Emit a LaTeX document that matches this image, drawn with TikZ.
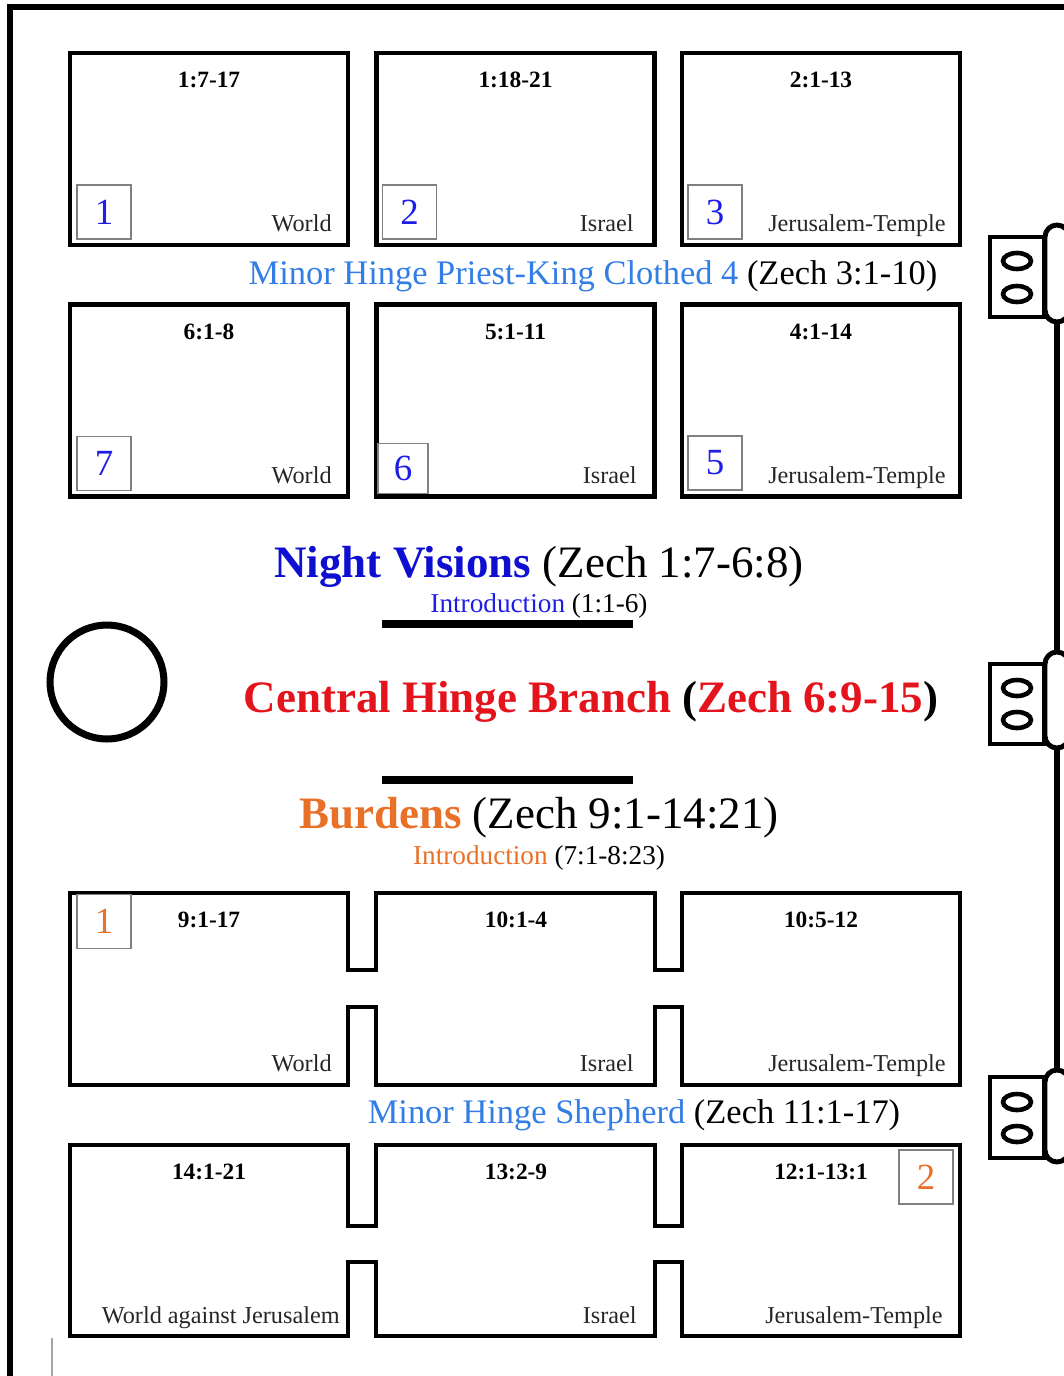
\documentclass[tikz,border=0pt]{standalone}
\usepackage{fontspec}
\setmainfont{Liberation Serif}
\usetikzlibrary{shapes.geometric}
\definecolor{hingeblue}{RGB}{50,125,230}
\definecolor{nightblue}{RGB}{15,15,210}
\definecolor{numblue}{RGB}{30,30,230}
\definecolor{branchred}{RGB}{228,20,28}
\definecolor{burdorange}{RGB}{232,112,40}
\tikzset{
  >=latex,
}
\tikzstyle{frame}=[line width=3.4pt]
\tikzstyle{outline}=[line width=2.6pt]
\tikzstyle{vision}=[draw,line width=2.6pt,minimum width=5.56cm,minimum height=3.84cm]
\tikzstyle{numbox}=[draw=gray,line width=0.8pt,minimum width=1.08cm,minimum height=1.08cm,inner sep=0pt,font=\fontsize{21}{21}\selectfont]
\tikzstyle{ref}=[anchor=base,inner sep=0pt,font=\fontsize{13.3}{15}\selectfont\bfseries]
\tikzstyle{place}=[anchor=base east,inner sep=0pt,text=black!85,font=\fontsize{13.8}{15}\selectfont]
\tikzstyle{title}=[anchor=base,inner sep=0pt,font=\fontsize{25.6}{28}\selectfont]
\tikzstyle{hinge}=[anchor=base,inner sep=0pt,font=\fontsize{19.6}{22}\selectfont]
\tikzstyle{intro}=[anchor=base,inner sep=0pt,font=\fontsize{15.5}{18}\selectfont]
\tikzstyle{leaf}=[draw,line width=2.8pt,minimum width=1.08cm,minimum height=1.6cm]
\tikzstyle{knuckle}=[draw,fill=white,line width=2.8pt,rounded corners=0.24cm,minimum width=0.48cm]
\tikzstyle{eye}=[draw,ellipse,line width=2.6pt,minimum width=0.56cm,minimum height=0.32cm,inner sep=0pt]

\begin{document}
\begin{tikzpicture}[x=0.02cm,y=-0.02cm]
    \useasboundingbox (0,0) rectangle (1063,1376);
    % page edge
    \draw[frame] (10,1380) -- (10,7) -- (1070,7);
    \draw[gray!70,line width=0.6pt] (52,1338) -- (52,1376);

    % night visions
    \node[vision] (v1) at (209,149) {};
    \node[vision] (v2) at (515.5,149) {};
    \node[vision] (v3) at (821,149) {};
    \node[vision] (v7) at (209,400.5) {};
    \node[vision] (v6) at (515.5,400.5) {};
    \node[vision] (v5) at (821,400.5) {};
    \node[ref] (r1) at (209,87) {1:7-17};
    \node[ref] (r2) at (515.5,87) {1:18-21};
    \node[ref] (r3) at (821,87) {2:1-13};
    \node[ref] (r7) at (209,339) {6:1-8};
    \node[ref] (r6) at (515.5,339) {5:1-11};
    \node[ref] (r5) at (821,339) {4:1-14};
    \node[numbox,text=numblue] (n1) at (104,212) {1};
    \node[numbox,text=numblue] (n2) at (409.5,212) {2};
    \node[numbox,text=numblue] (n3) at (715,212) {3};
    \node[numbox,text=numblue] (n7) at (104,463.5) {7};
    \node[numbox,text=numblue,minimum width=1cm,minimum height=1cm] (n6) at (403,468.5) {6};
    \node[numbox,text=numblue] (n5) at (715,463) {5};
    \node[place] (p1) at (332,231) {World};
    \node[place] (p2) at (634,231) {Israel};
    \node[place] (p3) at (946,231) {Jerusalem-Temple};
    \node[place] (p7) at (332,483) {World};
    \node[place] (p6) at (637,483) {Israel};
    \node[place] (p5) at (946,483) {Jerusalem-Temple};
    \node[hinge] (h4) at (593,284) {\textcolor{hingeblue}{Minor Hinge Priest-King Clothed 4} (Zech 3:1-10)};

    % centre
    \node[title] (nv) at (539,577) {\textcolor{nightblue}{\bfseries Night Visions} (Zech 1:7-6:8)};
    \node[intro] (nvi) at (539,612) {\textcolor{numblue}{Introduction} (1:1-6)};
    \draw[line width=4.5pt] (382,624) -- (633,624);
    \node[draw,circle,line width=4pt,minimum size=2.28cm] (ring) at (107,682) {};
    \node[title,font=\fontsize{25.6}{28}\selectfont\bfseries] (cb) at (591,712) {\textcolor{branchred}{Central Hinge Branch} (\textcolor{branchred}{Zech 6:9-15})};
    \draw[line width=4.5pt] (382,780) -- (633,780);
    \node[title] (bd) at (539,828) {\textcolor{burdorange}{\bfseries Burdens} (Zech 9:1-14:21)};
    \node[intro] (bdi) at (539,864) {\textcolor{burdorange}{Introduction} (7:1-8:23)};

    % burdens
    \draw[outline] (70,893) -| (348,970) -| (376,893) -| (655,970) -| (682,893) -| (960,1085)
      -| (682,1007) -| (655,1085) -| (376,1007) -| (348,1085) -- (70,1085) -- cycle;
    \draw[outline] (70,1145) -| (348,1226) -| (376,1145) -| (655,1226) -| (682,1145) -| (960,1336)
      -| (682,1262) -| (655,1336) -| (376,1262) -| (348,1336) -- (70,1336) -- cycle;
    \node[ref] (b1) at (209,927) {9:1-17};
    \node[ref] (b2) at (516,927) {10:1-4};
    \node[ref] (b3) at (821,927) {10:5-12};
    \node[ref] (b6) at (209,1179) {14:1-21};
    \node[ref] (b5) at (516,1179) {13:2-9};
    \node[ref] (b4) at (821,1179) {12:1-13:1};
    \node[numbox,text=burdorange] (m1) at (104,921.5) {1};
    \node[numbox,text=burdorange] (m2) at (926,1177) {2};
    \node[place] (q1) at (332,1071) {World};
    \node[place] (q2) at (634,1071) {Israel};
    \node[place] (q3) at (946,1071) {Jerusalem-Temple};
    \node[place] (q6) at (340,1323) {World against Jerusalem};
    \node[place] (q5) at (637,1323) {Israel};
    \node[place] (q4) at (943,1323) {Jerusalem-Temple};
    \node[hinge] (hs) at (634,1123) {\textcolor{hingeblue}{Minor Hinge Shepherd} (Zech 11:1-17)};

    % hinges
    \node[leaf] (l1) at (1017,277) {};
    \node[leaf] (l2) at (1017,704) {};
    \node[leaf,minimum height=1.62cm] (l3) at (1017,1117.5) {};
    \node[eye] (e1) at (1017,261) {};
    \node[eye] (e2) at (1017,294) {};
    \node[eye] (e3) at (1017,688) {};
    \node[eye] (e4) at (1017,720) {};
    \node[eye] (e5) at (1017,1102) {};
    \node[eye] (e6) at (1017,1134) {};
    \node[knuckle,minimum height=1.94cm] (k1) at (1057,273.5) {};
    \node[knuckle,minimum height=1.92cm] (k2) at (1057,700) {};
    \node[knuckle,minimum height=1.84cm] (k3) at (1057,1116) {};
    \draw[frame] (k1.south) -- (k2.north);
    \draw[frame] (k2.south) -- (k3.north);
  \end{tikzpicture}
\end{document}
